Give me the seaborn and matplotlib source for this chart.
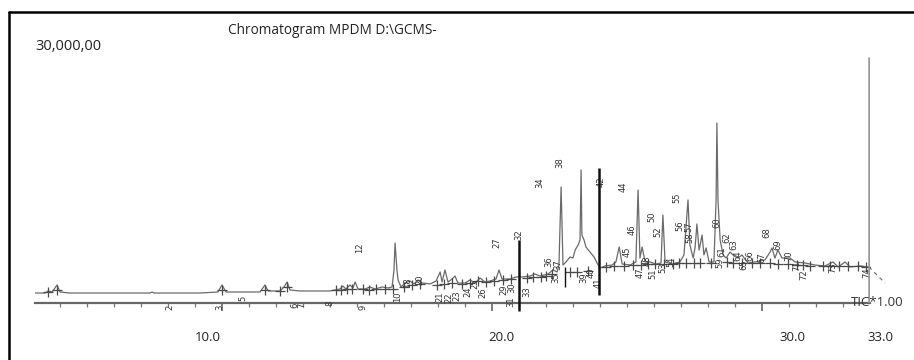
import numpy as np
import pandas as pd
import matplotlib
matplotlib.use("Agg")
import matplotlib.pyplot as plt
from matplotlib.lines import Line2D
import seaborn as sns

# TIC trace: retention time (min), intensity (x1e6)
trace_time = [3.09, 3.46, 3.57, 3.72, 3.90, 4.01, 4.38, 7.34, 7.42, 7.49, 9.20, 9.86, 10.01, 10.16,
              11.42, 11.60, 11.72, 12.16, 12.31, 12.42, 12.53, 12.90, 14.01, 14.38, 14.49, 14.60,
              14.75, 14.86, 14.94, 15.05, 15.31, 15.49, 15.68, 15.94, 16.16, 16.31, 16.38, 16.42,
              16.49, 16.53, 16.64, 16.79, 16.97, 17.12, 17.27, 17.42, 17.72, 17.94, 18.09, 18.16,
              18.27, 18.38, 18.53, 18.64, 18.75, 19.01, 19.20, 19.38, 19.57, 19.75, 19.94, 20.16,
              20.27, 20.38, 20.68, 20.90, 21.12, 21.42, 21.60, 21.79, 22.09, 22.27, 22.42, 22.49,
              22.57, 22.64, 22.75, 22.90, 23.01, 23.09, 23.20, 23.27, 23.31, 23.34, 23.42, 23.49,
              23.64, 23.79, 23.90, 24.01, 24.20, 24.46, 24.60, 24.72, 24.83, 25.12, 25.34, 25.42,
              25.49, 25.57, 25.68, 25.86, 26.09, 26.27, 26.34, 26.42, 26.68, 26.97, 27.12, 27.27,
              27.34, 27.46, 27.53, 27.60, 27.68, 27.72, 27.79, 27.86, 27.94, 28.05, 28.23, 28.31,
              28.34, 28.38, 28.46, 28.57, 28.68, 28.83, 28.97, 29.12, 29.27, 29.49, 29.75, 30.12,
              30.31, 30.38, 30.49, 30.60, 30.75, 31.05, 31.23, 31.60, 31.97, 32.34, 32.64, 32.83,
              33.09, 33.27, 33.64, 33.97]
trace_int = [1.17, 1.17, 1.41, 1.29, 2.11, 1.29, 1.17, 1.17, 1.29, 1.17, 1.17, 1.29, 2.11, 1.29,
             1.29, 2.11, 1.41, 1.41, 1.88, 2.46, 1.52, 1.41, 1.41, 1.64, 1.99, 1.64,
             2.11, 1.76, 2.46, 1.64, 1.64, 1.88, 1.64, 1.88, 1.76, 1.88, 3.87, 7.03,
             3.87, 2.70, 1.88, 2.34, 2.58, 2.23, 2.70, 2.34, 2.23, 2.58, 3.63, 2.46,
             3.87, 2.46, 2.81, 3.16, 2.34, 2.34, 2.70, 2.34, 2.93, 2.46, 2.58, 2.81,
             3.87, 2.81, 2.81, 3.05, 3.05, 3.16, 3.40, 3.16, 3.40, 3.87, 3.63, 4.45,
             13.60, 4.45, 4.81, 5.39, 5.27, 6.21, 6.80, 7.38, 15.59, 7.97, 7.38, 6.56,
             5.98, 5.39, 4.69, 4.10, 4.34, 4.45, 4.81, 6.56, 4.57, 4.45, 4.81, 13.24,
             5.27, 6.56, 4.81, 4.81, 4.57, 4.69, 10.31, 4.81, 4.57, 4.81, 5.63, 12.07,
             6.80, 5.27, 6.45, 9.26, 6.21, 6.80, 7.97, 5.63, 6.45, 4.81, 4.81, 12.07,
             21.10, 12.07, 7.38, 5.63, 5.27, 5.98, 5.51, 5.27, 5.63, 4.69, 4.81, 5.04,
             5.98, 6.45, 5.27, 6.21, 5.27, 5.27, 4.81, 4.69, 4.45, 4.34, 4.81, 4.22,
             4.81, 4.22, 4.34, 4.22]

# dashed tail after the run end
tail_time = [33.97, 34.57]
tail_int = [4.22, 2.34]

# integration marks along the baseline
mark_time = [3.57, 3.90, 10.01, 11.60, 12.16, 12.42, 14.23, 14.42, 14.64, 14.83, 15.23, 15.46,
             15.71, 16.05, 16.34, 16.75, 17.05, 17.34, 17.97, 18.23, 18.53, 18.90, 19.20, 19.49,
             19.79, 20.09, 20.42, 20.71, 21.31, 21.53, 21.83, 22.01, 22.23, 22.90, 23.16, 23.57,
             24.23, 24.53, 24.90, 25.23, 25.53, 25.79, 26.05, 26.38, 26.72, 26.94, 27.20, 27.49,
             27.72, 28.12, 28.71, 28.94, 29.27, 29.64, 29.94, 30.31, 30.60, 30.97, 31.31, 31.53,
             31.79, 32.27, 32.53, 32.86, 33.20, 33.57, 33.86]
mark_int = [1.29, 1.52, 1.52, 1.52, 1.41, 1.88, 1.52, 1.52, 1.64, 1.64, 1.64, 1.52,
            1.64, 1.64, 1.64, 1.88, 2.11, 2.23, 2.11, 2.23, 2.34, 2.23, 2.34, 2.58,
            2.46, 2.58, 2.70, 2.81, 2.93, 3.05, 3.05, 3.16, 3.40, 3.63, 3.63, 3.75,
            4.22, 4.34, 4.34, 4.45, 4.45, 4.57, 4.57, 4.57, 4.57, 4.69, 4.69, 4.69,
            4.69, 4.69, 4.81, 4.69, 4.69, 4.69, 4.69, 4.69, 4.57, 4.57, 4.45, 4.45,
            4.34, 4.34, 4.34, 4.34, 4.34, 4.34, 4.22]

# heavy vertical peak lines (32, 42, 34 mark) and the run-end line
bar_time = [21.02, 23.99, 22.71]
bar_top = [7.38, 15.82, 4.22]
bar_bottom = [-0.94, 0.94, 1.88]
end_time = 33.97
end_top = 28.83

# peak numbers: label, time, intensity
peak_labels = ["2", "3", "5", "6", "7", "8", "9", "10", "18", "20", "12", "21", "22", "23", "24",
               "25", "26", "27", "29", "30", "31", "32", "33", "34", "35", "36", "37", "38", "39",
               "40", "41", "42", "44", "45", "46", "47", "48", "50", "51", "52", "53", "54", "55",
               "56", "57", "58", "59", "60", "61", "62", "63", "64", "65", "66", "67", "68", "69",
               "70", "71", "72", "73", "74"]
peak_time = [8.08, 9.94, 10.79, 12.70, 12.98, 14.01, 15.23, 16.53, 16.90, 17.34, 15.12, 18.09, 18.42,
             18.72, 19.12, 19.38, 19.68, 20.20, 20.45, 20.75, 20.71, 21.01, 21.31, 21.79, 22.38,
             22.10, 22.45, 22.53, 23.40, 23.68, 23.93, 24.05, 24.86, 25.01, 25.20, 25.50, 25.75,
             25.94, 25.97, 26.16, 26.34, 26.64, 26.86, 26.97, 27.30, 27.34, 28.45, 28.34, 28.52,
             28.70, 28.98, 29.12, 29.34, 29.55, 30.01, 30.19, 30.60, 31.02, 31.30, 31.55, 32.64,
             33.90]
peak_int = [-0.47, -0.47, 0.59, -0.23, -0.23, 0.00, -0.47, 0.70, 2.34, 2.70, 6.45, 0.70, 0.59,
            0.82, 1.29, 2.30, 1.20, 7.03, 1.52, 1.75, 0.10, 7.97, 1.29, 14.06, 3.00,
            4.81, 4.45, 16.41, 2.93, 3.60, 2.40, 14.18, 13.60, 5.98, 8.56, 3.50, 5.00,
            10.08, 3.40, 8.32, 4.10, 4.81, 12.31, 9.02, 8.91, 7.62, 4.69, 9.38, 5.98,
            7.70, 6.80, 5.60, 4.50, 5.60, 5.27, 8.20, 6.80, 5.50, 4.40, 3.30, 4.10,
            3.52]

tick_text = ["10.0", "20.0", "30.0", "33.0"]
tick_text_pos = [9.49, 20.34, 31.12, 34.38]

trace = pd.DataFrame({"time": trace_time, "intensity": trace_int})
marks = pd.DataFrame({"time": mark_time, "intensity": mark_int})

sns.set_theme(style="white")
plt.rcParams["font.family"] = ["Open Sans", "DejaVu Sans"]

W, H = 914, 360
fig = plt.figure(figsize=(W / 100, H / 100), dpi=100)
ax = fig.add_axes([35 / W, (H - 303) / H, (870 - 35) / W, (303 - 47) / H])

sns.lineplot(data=trace, x="time", y="intensity", ax=ax, sort=False, estimator=None,
             color="#6a6a6a", linewidth=0.9)
ax.plot(tail_time, tail_int, color="#777777", lw=0.9, ls=(0, (3, 3)), clip_on=False)
sns.scatterplot(data=marks, x="time", y="intensity", ax=ax, marker="+", s=45,
                color="#4a4a4a", linewidth=0.9, zorder=3)
ax.vlines(bar_time, bar_bottom, bar_top, colors="#111111", linewidth=[1.8, 1.8, 1.0],
          clip_on=False, zorder=4)
ax.vlines([end_time], [0], [end_top], colors="#999999", linewidth=1.8, zorder=4)

for lab, t, v in zip(peak_labels, peak_time, peak_int):
    ax.text(t, v, lab, rotation=90, ha="center", va="center", fontsize=6,
            color="#333333", clip_on=False, family=["DejaVu Sans"])

ax.set_xlim(3.085, 34.01)
ax.set_ylim(0, 30)
for side in ["top", "left", "right"]:
    ax.spines[side].set_visible(False)
ax.spines["bottom"].set_color("#666666")
ax.spines["bottom"].set_linewidth(1.6)
ax.set_xticks([10, 20, 30])
ax.set_xticks(np.arange(4, 34), minor=True)
ax.tick_params(axis="x", which="major", length=6, width=1.2, color="#666666", direction="out",
               labelbottom=False, bottom=True)
ax.tick_params(axis="x", which="minor", length=3, width=0.9, color="#777777", direction="out",
               bottom=True)
ax.set_yticks([])
ax.set_xlabel("")
ax.set_ylabel("")

for lab, t in zip(tick_text, tick_text_pos):
    ax.text(t, -4.1, lab, ha="center", va="center", fontsize=9.5, color="#222222", clip_on=False)

fig.text(228 / W, (H - 30) / H, "Chromatogram MPDM D:\\GCMS-", ha="left", va="center",
         fontsize=9.8, color="#222222")
fig.text(35 / W, (H - 47) / H, "30,000,00", ha="left", va="center", fontsize=10.5, color="#222222")
fig.text(851 / W, (H - 303) / H, "TIC*1.00", ha="left", va="center", fontsize=9.5,
         color="#333333")

# outer frame (cut at right and bottom)
fig.add_artist(Line2D([9 / W, 9 / W], [0, (H - 12) / H], color="black", lw=1.8))
fig.add_artist(Line2D([9 / W, 1], [(H - 12) / H, (H - 12) / H], color="black", lw=1.8))

fig.savefig("out.png", dpi=100)
